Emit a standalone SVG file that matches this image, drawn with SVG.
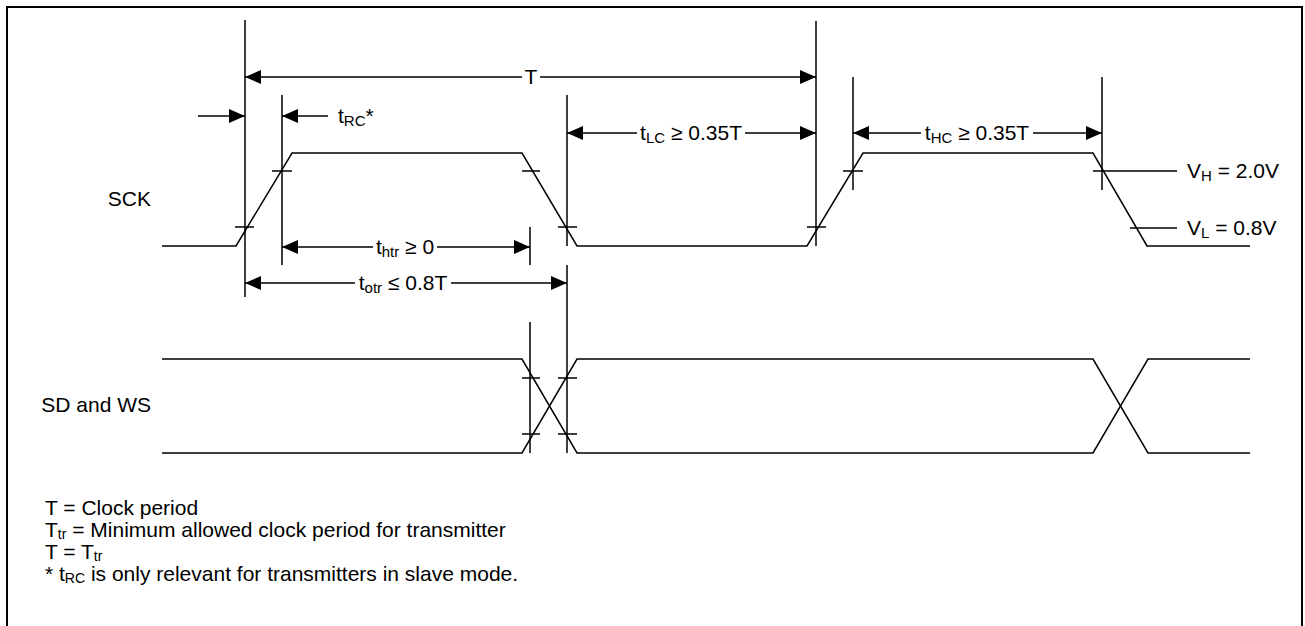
<svg xmlns="http://www.w3.org/2000/svg" width="1305" height="626" viewBox="0 0 1305 626">
<defs>
<style>
.ln{stroke:#000;stroke-width:1.5;fill:none}
.tx{font-family:"Liberation Sans",Arial,sans-serif;font-size:21px;fill:#000}
.sb{font-size:15px}
.ls{font-size:14px}
</style>
<marker id="ah" markerUnits="userSpaceOnUse" markerWidth="16" markerHeight="14" refX="16" refY="7" orient="auto">
<path d="M0,0 L16,7 L0,14 z" fill="#000"/>
</marker>
</defs>
<rect x="7" y="7" width="1295" height="640" fill="#fff" stroke="#000" stroke-width="2"/>
<g id="connectors">
<g id="verticals" class="ln">
<line x1="245" y1="20" x2="245" y2="297"/>
<line x1="282" y1="95" x2="282" y2="265"/>
<line x1="530" y1="227" x2="530" y2="265"/>
<line x1="567" y1="95" x2="567" y2="246"/>
<line x1="567" y1="265" x2="567" y2="453"/>
<line x1="530" y1="322" x2="530" y2="453"/>
<line x1="816" y1="21" x2="816" y2="246"/>
<line x1="853" y1="77" x2="853" y2="190"/>
<line x1="1102" y1="77" x2="1102" y2="190"/>
</g>
<g id="arrows" class="ln" marker-end="url(#ah)">
<line x1="522" y1="77" x2="245" y2="77"/>
<line x1="540" y1="77" x2="816" y2="77"/>
<line x1="198" y1="116" x2="245" y2="116"/>
<line x1="328" y1="116" x2="282" y2="116"/>
<line x1="637" y1="133" x2="567" y2="133"/>
<line x1="745" y1="133" x2="816" y2="133"/>
<line x1="921" y1="133" x2="853" y2="133"/>
<line x1="1033" y1="133" x2="1102" y2="133"/>
<line x1="373" y1="247" x2="282" y2="247"/>
<line x1="437" y1="247" x2="530" y2="247"/>
<line x1="355" y1="283" x2="245" y2="283"/>
<line x1="451" y1="283" x2="567" y2="283"/>
</g>
<g id="ticks" class="ln">
<line x1="235" y1="227" x2="254" y2="227"/>
<line x1="272" y1="171" x2="292" y2="171"/>
<line x1="522" y1="171" x2="540" y2="171"/>
<line x1="558" y1="227" x2="577" y2="227"/>
<line x1="807" y1="227" x2="826" y2="227"/>
<line x1="843" y1="171" x2="863" y2="171"/>
<line x1="1093" y1="171" x2="1177" y2="171"/>
<line x1="1130" y1="228" x2="1177" y2="228"/>
<line x1="522" y1="378" x2="540" y2="378"/>
<line x1="558" y1="378" x2="577" y2="378"/>
<line x1="522" y1="434" x2="540" y2="434"/>
<line x1="558" y1="434" x2="577" y2="434"/>
</g>
</g>
<g id="sck-wave">
<path class="ln" d="M162,246 L236,246 L292,153 L522,153 L577,246 L807,246 L863,153 L1093,153 L1147,246 L1250,246"/>
</g>
<g id="sd-wave">
<path class="ln" d="M162,359 L522,359 L577,453 L1093,453 L1148,359 L1250,359"/>
<path class="ln" d="M162,453 L522,453 L577,359 L1093,359 L1148,453 L1250,453"/>
</g>
<g id="labels">
<text class="tx" x="531" y="84" text-anchor="middle">T</text>
<text class="tx" x="338" y="123">t<tspan class="sb" dy="3">RC</tspan><tspan dy="-3">*</tspan></text>
<text class="tx" x="691" y="140" text-anchor="middle">t<tspan class="sb" dy="3">LC</tspan><tspan dy="-3"> ≥ 0.35T</tspan></text>
<text class="tx" x="977" y="140" text-anchor="middle">t<tspan class="sb" dy="3">HC</tspan><tspan dy="-3"> ≥ 0.35T</tspan></text>
<text class="tx" x="405" y="254" text-anchor="middle">t<tspan class="sb" dy="3">htr</tspan><tspan dy="-3"> ≥ 0</tspan></text>
<text class="tx" x="403" y="290" text-anchor="middle">t<tspan class="sb" dy="3">otr</tspan><tspan dy="-3"> ≤ 0.8T</tspan></text>
<text class="tx" x="1187" y="178">V<tspan class="sb" dy="3">H</tspan><tspan dy="-3"> = 2.0V</tspan></text>
<text class="tx" x="1187" y="235">V<tspan class="sb" dy="3">L</tspan><tspan dy="-3"> = 0.8V</tspan></text>
<text class="tx" x="151" y="206" text-anchor="end">SCK</text>
<text class="tx" x="151" y="412" text-anchor="end">SD and WS</text>
</g>
<g id="legend">
<text class="tx" x="45" y="515">T = Clock period</text>
<text class="tx" x="45" y="537">T<tspan class="ls" dy="2">tr</tspan><tspan dy="-2"> = Minimum allowed clock period for transmitter</tspan></text>
<text class="tx" x="45" y="559">T = T<tspan class="ls" dy="2">tr</tspan></text>
<text class="tx" x="45" y="581">* t<tspan class="ls" dy="2">RC</tspan><tspan dy="-2"> is only relevant for transmitters in slave mode.</tspan></text>
</g>
</svg>
